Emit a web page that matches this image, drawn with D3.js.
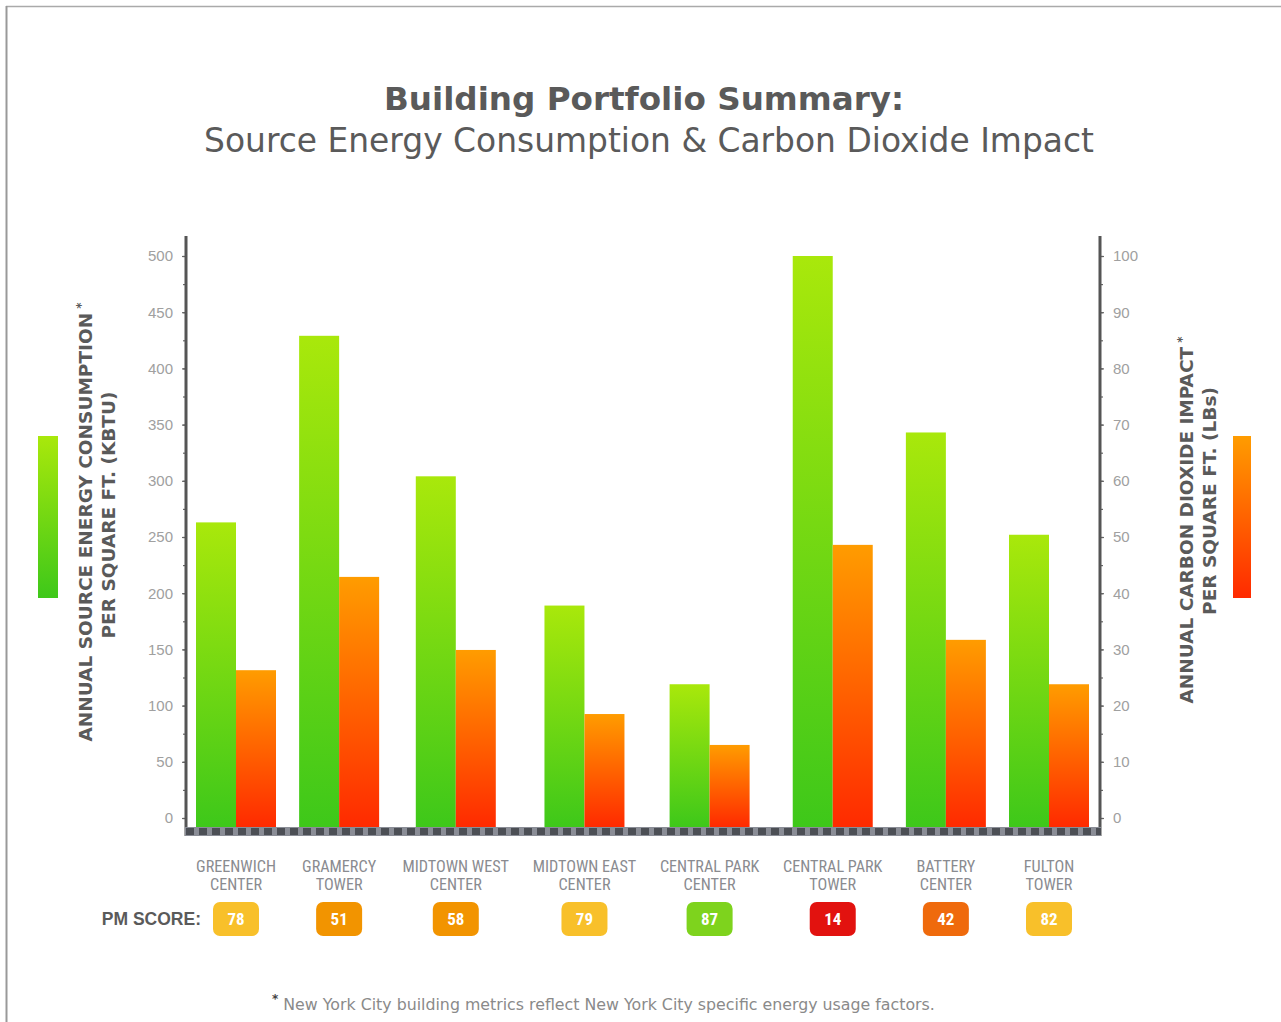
<!DOCTYPE html>
<html>
<head>
<meta charset="utf-8">
<script src="https://cdn.jsdelivr.net/npm/d3@7"></script>
<style>
  html, body { margin: 0; padding: 0; background: #fff; }
  svg { display: block; }
</style>
</head>
<body>
<svg id="chart" width="1281" height="1022"></svg>
<script>
// Buildings in the portfolio, with their two-line labels
const buildings = [
  "GREENWICH CENTER", "GRAMERCY TOWER", "MIDTOWN WEST CENTER", "MIDTOWN EAST CENTER",
  "CENTRAL PARK CENTER", "CENTRAL PARK TOWER", "BATTERY CENTER", "FULTON TOWER"
];
const buildingLines = [
  ["GREENWICH", "CENTER"], ["GRAMERCY", "TOWER"], ["MIDTOWN WEST", "CENTER"], ["MIDTOWN EAST", "CENTER"],
  ["CENTRAL PARK", "CENTER"], ["CENTRAL PARK", "TOWER"], ["BATTERY", "CENTER"], ["FULTON", "TOWER"]
];
// Annual source energy per sq ft (kBTU)
const sourceEnergy = [263, 429, 304, 189, 119, 500, 343, 252];
// Annual CO2 impact per sq ft (lbs)
const carbonImpact = [26.3, 42.9, 29.9, 18.5, 13, 48.6, 31.7, 23.8];
// Portfolio Manager scores
const pmScores = [78, 51, 58, 79, 87, 14, 42, 82];
// Axis ticks
const energyTicks = [0, 50, 100, 150, 200, 250, 300, 350, 400, 450, 500];
const energyMinorTicks = d3.range(0, 501, 25);
const carbonTicks = [0, 10, 20, 30, 40, 50, 60, 70, 80, 90, 100];
const carbonMinorTicks = d3.range(0, 101, 5);

const svg = d3.select("#chart");
const grey = "#5a5a5a";
const narrow = "'Liberation Sans Narrow', 'Arial Narrow', 'Roboto Condensed', sans-serif";
const sans = "'Liberation Sans', Arial, sans-serif";
const verdana = "'DejaVu Sans', Verdana, sans-serif";

// Page frame
svg.append("line").attr("x1", 6).attr("x2", 1281).attr("y1", 6.5).attr("y2", 6.5)
  .attr("stroke", "#aaa").attr("stroke-width", 1.5);
svg.append("line").attr("x1", 6.5).attr("x2", 6.5).attr("y1", 6).attr("y2", 1022)
  .attr("stroke", "#999").attr("stroke-width", 2);

// Gradients
const defs = svg.append("defs");
function vGrad(id, top, bottom) {
  const g = defs.append("linearGradient").attr("id", id)
    .attr("x1", 0).attr("y1", 0).attr("x2", 0).attr("y2", 1);
  g.append("stop").attr("offset", "0%").attr("stop-color", top);
  g.append("stop").attr("offset", "100%").attr("stop-color", bottom);
}
vGrad("greenGrad", "#a9e80b", "#3ec81a");
vGrad("orangeGrad", "#ff9c00", "#ff2a00");

// Titles
svg.append("text").attr("x", 644).attr("y", 110).attr("text-anchor", "middle")
  .attr("font-family", verdana).attr("font-weight", "bold")
  .attr("font-size", 32.6).attr("fill", grey).text("Building Portfolio Summary:");
svg.append("text").attr("x", 649).attr("y", 152).attr("text-anchor", "middle")
  .attr("font-family", verdana)
  .attr("font-size", 32.9).attr("fill", grey)
  .text("Source Energy Consumption & Carbon Dioxide Impact");

const plotLeft = 186, plotRight = 1100;
const barW = 40;
const barBase = 827;

// Category labels: laid out first so each slot can be as wide as its label
const labels = svg.selectAll("text.cat").data(buildingLines).join("text").attr("class", "cat")
  .attr("y", 872).attr("text-anchor", "middle").attr("font-family", narrow)
  .attr("font-size", 16.2).attr("fill", "#8a8b90");
labels.each(function (lines) {
  const t = d3.select(this);
  lines.forEach((ln, j) => t.append("tspan").attr("x", 0).attr("dy", j === 0 ? 0 : 18).text(ln));
});
const labelWidths = [];
labels.each(function () { labelWidths.push(this.getBBox().width); });
const slots = labelWidths.map(w => Math.max(w, 2 * barW));
const gap = 21;
const offsets = [0];
for (let i = 1; i < slots.length; i++) {
  offsets.push(offsets[i - 1] + (slots[i - 1] + slots[i]) / 2 + gap);
}
const spread = d3.scaleLinear().domain([0, offsets[offsets.length - 1]])
  .range([plotLeft + 50, plotRight - 51]);
const x = d3.scaleOrdinal().domain(buildings).range(offsets.map(spread));
labels.selectAll("tspan").attr("x", function () {
  return x(buildings[buildingLines.indexOf(d3.select(this.parentNode).datum())]);
});

// Value scales
const yE = d3.scaleLinear().domain([0, 500]).range([818, 256]);
const yC = d3.scaleLinear().domain([0, 100]).range([818, 256]);

// Bars
const g = svg.append("g");
g.selectAll("rect.energy").data(sourceEnergy).join("rect").attr("class", "energy")
  .attr("x", (d, i) => x(buildings[i]) - barW)
  .attr("y", d => yE(d)).attr("width", barW)
  .attr("height", d => barBase - yE(d)).attr("fill", "url(#greenGrad)");
g.selectAll("rect.carbon").data(carbonImpact).join("rect").attr("class", "carbon")
  .attr("x", (d, i) => x(buildings[i]))
  .attr("y", d => yC(d)).attr("width", barW)
  .attr("height", d => barBase - yC(d)).attr("fill", "url(#orangeGrad)");

// Left axis
svg.append("g").attr("transform", `translate(${plotLeft},0)`)
  .call(d3.axisLeft(yE).tickValues(energyTicks).tickSize(4).tickPadding(9));
svg.append("g").attr("transform", `translate(${plotLeft},0)`)
  .call(d3.axisLeft(yE).tickValues(energyMinorTicks).tickSize(3).tickFormat(""));
// Right axis
svg.append("g").attr("transform", `translate(${plotRight},0)`)
  .call(d3.axisRight(yC).tickValues(carbonTicks).tickSize(4).tickPadding(9));
svg.append("g").attr("transform", `translate(${plotRight},0)`)
  .call(d3.axisRight(yC).tickValues(carbonMinorTicks).tickSize(3).tickFormat(""));

svg.selectAll(".domain").remove();
[plotLeft, plotRight].forEach(px => {
  svg.append("line").attr("x1", px).attr("x2", px).attr("y1", 236).attr("y2", 836)
    .attr("stroke", "#555").attr("stroke-width", 3);
});
svg.selectAll(".tick line").attr("stroke", "#666").attr("stroke-width", 1.2);
svg.selectAll(".tick text").attr("fill", "#a0a0a0")
  .attr("font-family", sans).attr("font-size", 15);

// Checkered baseline strip
svg.append("rect").attr("x", plotLeft - 1).attr("y", barBase).attr("width", plotRight - plotLeft + 2)
  .attr("height", 9).attr("fill", "#8a8d96");
svg.append("line").attr("x1", plotLeft).attr("x2", plotRight + 1)
  .attr("y1", barBase + 4.5).attr("y2", barBase + 4.5)
  .attr("stroke", "#4c4f55").attr("stroke-width", 7).attr("stroke-dasharray", "8,5");

// PM score badges
const scoreColor = d3.scaleThreshold().domain([20, 45, 70, 85])
  .range(["#e2120f", "#ef6a0c", "#f29400", "#f8c02a", "#7ed31d"]);
svg.append("text").attr("x", 201).attr("y", 925).attr("text-anchor", "end")
  .attr("font-family", sans).attr("font-weight", "bold")
  .attr("font-size", 17.5).attr("fill", grey).text("PM SCORE:");
const badges = svg.selectAll("g.badge").data(pmScores).join("g").attr("class", "badge")
  .attr("transform", (d, i) => `translate(${x(buildings[i])},919)`);
badges.append("rect").attr("x", -23).attr("y", -17).attr("width", 46).attr("height", 34)
  .attr("rx", 7).attr("fill", d => scoreColor(d));
badges.append("text").attr("text-anchor", "middle").attr("dy", "0.35em")
  .attr("font-family", narrow).attr("font-weight", "bold")
  .attr("font-size", 17).attr("fill", "#fff").text(d => d);

// Legend swatches
svg.append("rect").attr("x", 38).attr("y", 436).attr("width", 20).attr("height", 162)
  .attr("fill", "url(#greenGrad)");
svg.append("rect").attr("x", 1233).attr("y", 436).attr("width", 18).attr("height", 162)
  .attr("fill", "url(#orangeGrad)");

// Axis titles
function axisTitle(cx, cy, line1, line2, cy2) {
  const t = svg.append("text").attr("transform", `translate(${cx},0) rotate(-90)`)
    .attr("text-anchor", "middle").attr("font-family", verdana)
    .attr("font-weight", "bold").attr("font-size", 18.5).attr("fill", grey);
  const a = t.append("tspan").attr("x", -cy).attr("y", 0);
  a.append("tspan").text(line1);
  a.append("tspan").attr("dy", -7).attr("font-size", 12).text(" *");
  t.append("tspan").attr("x", -cy2).attr("y", 23).text(line2);
}
axisTitle(92, 522, "ANNUAL SOURCE ENERGY CONSUMPTION", "PER SQUARE FT. (KBTU)", 515);
axisTitle(1193, 520, "ANNUAL CARBON DIOXIDE IMPACT", "PER SQUARE FT. (LBs)", 501);

// Footnote
const fn = svg.append("text").attr("x", 272).attr("y", 1010)
  .attr("font-family", verdana).attr("font-size", 15.8).attr("fill", "#8a8a8a");
fn.append("tspan").attr("dy", -7).attr("font-size", 12).attr("font-weight", "bold").attr("fill", "#444").text("*");
fn.append("tspan").attr("dy", 7).text(" New York City building metrics reflect New York City specific energy usage factors.");
</script>
</body>
</html>
